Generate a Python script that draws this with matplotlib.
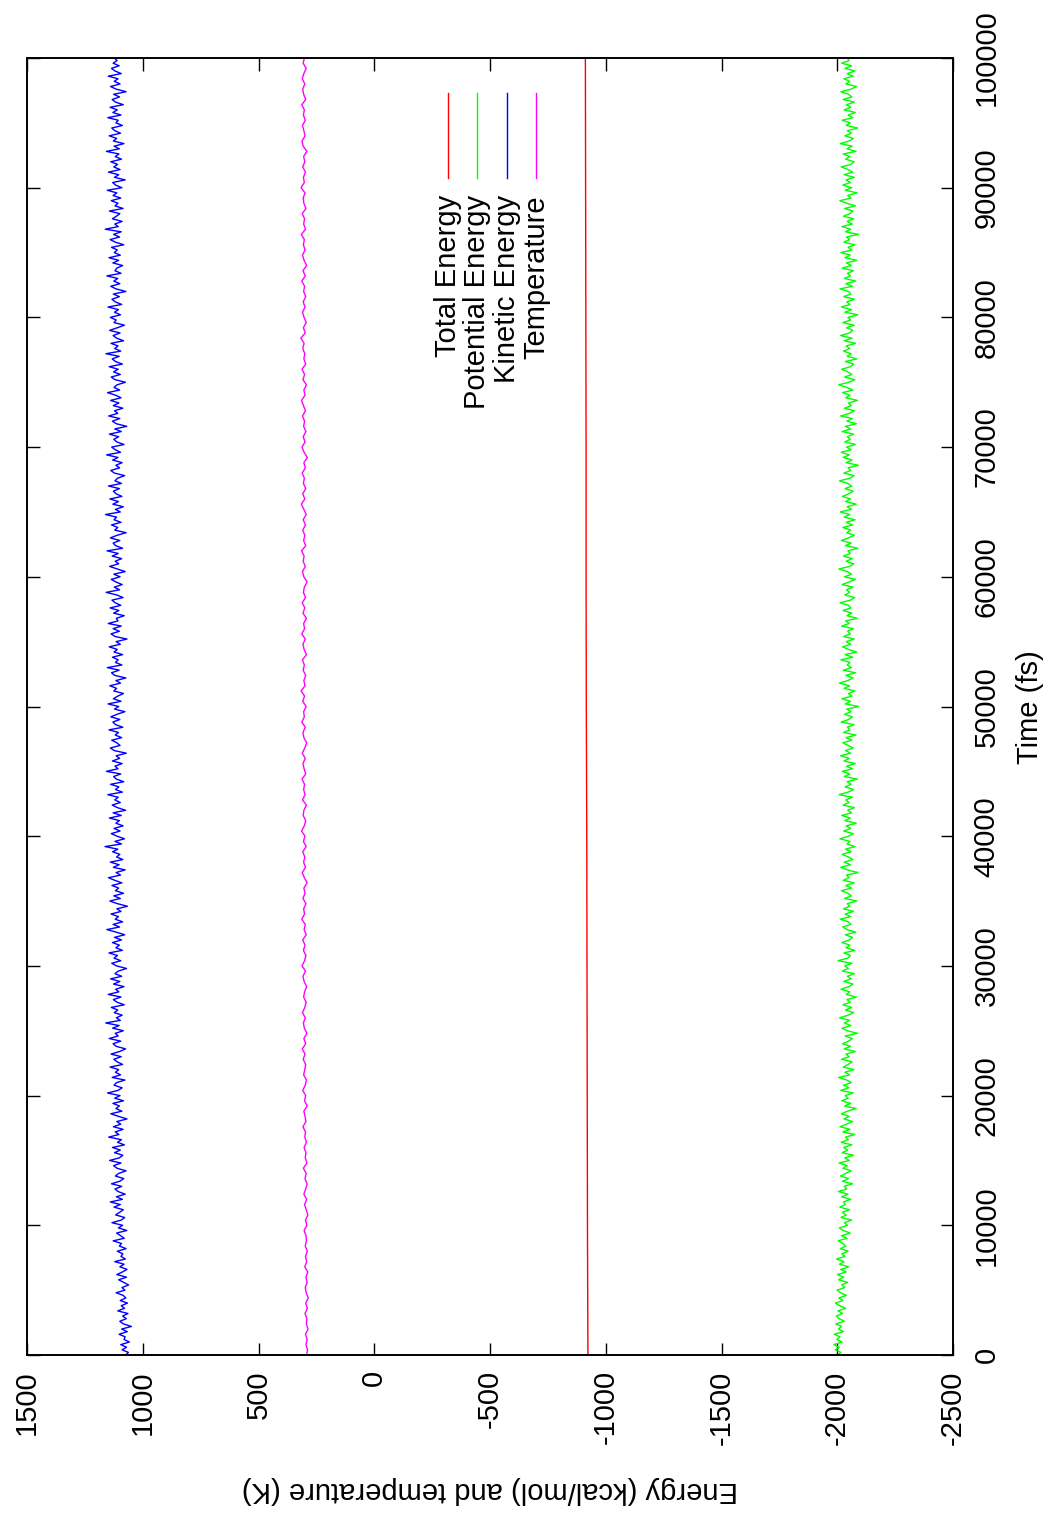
import numpy as np
import matplotlib
matplotlib.use("Agg")
import matplotlib.pyplot as plt
from matplotlib.lines import Line2D

plt.rcParams['font.family'] = ['Liberation Sans', 'DejaVu Sans']
plt.rcParams['axes.unicode_minus'] = False

# time grids (fs)
t_energy = np.linspace(0, 100000, 501)
t_temp = np.linspace(0, 100000, 251)
t_tot = np.linspace(0, 100000, 11)

# values (kcal/mol, K)
total_energy = [-923, -921, -920, -919, -918, -916, -915, -915, -914, -913, -912]

kinetic_energy = [
    1074, 1062, 1089, 1070, 1095, 1058, 1081, 1076, 1102, 1067, 1091, 1049, 1084, 1099, 1071, 1087, 1064, 1108, 1079, 1093,
    1066, 1097, 1073, 1085, 1115, 1077, 1090, 1061, 1083, 1104, 1070, 1112, 1088, 1068, 1099, 1081, 1121, 1075, 1094, 1086,
    1110, 1072, 1101, 1092, 1128, 1080, 1096, 1113, 1069, 1105, 1087, 1133, 1093, 1078, 1117, 1100, 1084, 1124, 1097, 1140,
    1088, 1114, 1076, 1106, 1120, 1091, 1135, 1099, 1082, 1118, 1104, 1072, 1111, 1126, 1094, 1143, 1101, 1086, 1122, 1097,
    1131, 1079, 1109, 1092, 1147, 1103, 1119, 1085, 1127, 1095, 1112, 1068, 1105, 1138, 1090, 1116, 1101, 1129, 1083, 1121,
    1098, 1152, 1107, 1089, 1124, 1113, 1077, 1132, 1096, 1118, 1104, 1141, 1087, 1110, 1125, 1093, 1137, 1100, 1074, 1115,
    1128, 1095, 1145, 1106, 1119, 1084, 1130, 1102, 1160, 1097, 1114, 1089, 1123, 1108, 1136, 1080, 1111, 1127, 1094, 1149,
    1103, 1117, 1081, 1126, 1099, 1139, 1091, 1120, 1106, 1070, 1113, 1134, 1095, 1124, 1109, 1146, 1088, 1116, 1101, 1131,
    1092, 1122, 1078, 1114, 1155, 1100, 1128, 1087, 1119, 1105, 1137, 1094, 1112, 1066, 1110, 1142, 1097, 1125, 1083, 1118,
    1104, 1133, 1090, 1121, 1148, 1096, 1115, 1076, 1127, 1102, 1140, 1086, 1113, 1099, 1130, 1108, 1163, 1092, 1120, 1079,
    1111, 1136, 1098, 1124, 1085, 1116, 1101, 1144, 1093, 1128, 1074, 1109, 1132, 1097, 1121, 1106, 1151, 1088, 1118, 1103,
    1139, 1082, 1114, 1126, 1095, 1157, 1107, 1120, 1089, 1131, 1100, 1115, 1071, 1123, 1140, 1098, 1112, 1134, 1091, 1119,
    1105, 1146, 1086, 1117, 1129, 1099, 1138, 1111, 1077, 1122, 1104, 1150, 1094, 1127, 1108, 1083, 1125, 1113, 1142, 1096,
    1116, 1073, 1121, 1135, 1102, 1153, 1090, 1118, 1106, 1131, 1087, 1124, 1110, 1145, 1097, 1115, 1068, 1120, 1137, 1101,
    1128, 1093, 1149, 1107, 1114, 1080, 1126, 1103, 1141, 1095, 1119, 1133, 1085, 1112, 1158, 1100, 1123, 1089, 1116, 1136,
    1098, 1125, 1076, 1110, 1143, 1104, 1119, 1091, 1132, 1106, 1154, 1087, 1117, 1128, 1099, 1140, 1111, 1072, 1121, 1108,
    1135, 1094, 1124, 1113, 1161, 1097, 1118, 1084, 1129, 1105, 1142, 1090, 1115, 1127, 1101, 1148, 1092, 1120, 1109, 1078,
    1123, 1138, 1100, 1116, 1089, 1130, 1107, 1156, 1096, 1119, 1134, 1081, 1112, 1125, 1104, 1144, 1093, 1121, 1069, 1114,
    1131, 1099, 1147, 1108, 1122, 1086, 1127, 1103, 1139, 1094, 1117, 1152, 1100, 1124, 1111, 1075, 1120, 1136, 1097, 1126,
    1106, 1145, 1088, 1118, 1132, 1102, 1159, 1095, 1121, 1107, 1137, 1083, 1113, 1128, 1098, 1143, 1110, 1079, 1124, 1115,
    1140, 1096, 1122, 1105, 1150, 1091, 1119, 1133, 1101, 1127, 1073, 1116, 1138, 1099, 1125, 1108, 1155, 1094, 1120, 1112,
    1087, 1129, 1104, 1146, 1097, 1123, 1110, 1135, 1082, 1118, 1141, 1100, 1126, 1093, 1162, 1106, 1121, 1089, 1131, 1114,
    1099, 1144, 1085, 1120, 1107, 1136, 1095, 1128, 1112, 1153, 1090, 1117, 1130, 1076, 1122, 1104, 1148, 1098, 1125, 1109,
    1138, 1092, 1119, 1103, 1157, 1101, 1124, 1081, 1127, 1113, 1145, 1096, 1121, 1134, 1088, 1116, 1106, 1151, 1094, 1129,
    1110, 1141, 1084, 1118, 1132, 1100, 1126, 1072, 1115, 1139, 1098, 1123, 1107, 1149, 1093, 1120, 1135, 1102, 1128, 1111,
    1122,
]

potential_energy = [
    -2002, -2016, -1991, -2009, -1985, -2021, -1998, -2012, -1987, -2027, -2005, -2018, -1994, -2031, -2008, -1996, -2023, -2003, -2036, -2011,
    -1992, -2025, -2007, -2040, -2014, -1999, -2033, -2019, -2045, -2006, -2028, -2001, -2038, -2015, -2050, -2010, -2029, -1997, -2034, -2020,
    -2047, -2013, -2037, -2024, -2004, -2042, -2018, -2056, -2026, -2009, -2044, -2031, -2062, -2016, -2039, -2022, -2053, -2011, -2035, -2027,
    -2058, -2019, -2046, -2005, -2041, -2030, -2066, -2023, -2049, -2014, -2037, -2060, -2025, -2043, -2008, -2052, -2033, -2070, -2021, -2045,
    -2028, -2063, -2017, -2048, -2036, -2075, -2024, -2055, -2012, -2040, -2067, -2029, -2051, -2018, -2044, -2081, -2032, -2058, -2020, -2047,
    -2035, -2069, -2015, -2050, -2027, -2061, -2041, -2006, -2054, -2033, -2072, -2026, -2046, -2064, -2019, -2052, -2038, -2078, -2030, -2057,
    -2023, -2049, -2065, -2034, -2088, -2043, -2021, -2059, -2031, -2053, -2010, -2047, -2071, -2036, -2062, -2025, -2056, -2042, -2083, -2039,
    -2054, -2016, -2050, -2068, -2028, -2060, -2044, -2074, -2022, -2048, -2033, -2064, -2003, -2045, -2057, -2029, -2076, -2038, -2055, -2020,
    -2052, -2066, -2035, -2080, -2041, -2024, -2059, -2047, -2013, -2058, -2034, -2070, -2027, -2054, -2043, -2085, -2032, -2061, -2046, -2018,
    -2063, -2037, -2073, -2026, -2051, -2040, -2090, -2044, -2015, -2057, -2030, -2067, -2048, -2021, -2060, -2036, -2077, -2042, -2055, -2011,
    -2049, -2069, -2028, -2058, -2039, -2082, -2033, -2056, -2019, -2062, -2045, -2074, -2025, -2051, -2037, -2065, -2008, -2047, -2071, -2034,
    -2060, -2043, -2087, -2031, -2054, -2022, -2066, -2040, -2078, -2029, -2052, -2014, -2058, -2036, -2069, -2046, -2024, -2063, -2038, -2081,
    -2027, -2055, -2044, -2072, -2017, -2050, -2065, -2032, -2059, -2041, -2093, -2035, -2057, -2020, -2064, -2048, -2076, -2030, -2053, -2009,
    -2046, -2068, -2037, -2079, -2026, -2061, -2043, -2055, -2016, -2067, -2034, -2084, -2049, -2023, -2058, -2039, -2073, -2028, -2056, -2045,
    -2070, -2019, -2052, -2036, -2086, -2042, -2063, -2025, -2059, -2048, -2012, -2057, -2075, -2033, -2054, -2040, -2068, -2021, -2050, -2080,
    -2031, -2062, -2044, -2007, -2053, -2071, -2038, -2065, -2027, -2056, -2046, -2089, -2035, -2060, -2018, -2049, -2074, -2041, -2058, -2024,
    -2066, -2039, -2077, -2030, -2054, -2013, -2061, -2043, -2082, -2036, -2057, -2022, -2050, -2069, -2034, -2063, -2045, -2010, -2055, -2072,
    -2029, -2059, -2047, -2091, -2038, -2064, -2026, -2052, -2017, -2060, -2040, -2078, -2033, -2056, -2044, -2070, -2021, -2058, -2036, -2083,
    -2042, -2065, -2015, -2053, -2074, -2031, -2061, -2048, -2087, -2037, -2055, -2023, -2068, -2041, -2006, -2050, -2076, -2032, -2063, -2045,
    -2019, -2057, -2071, -2035, -2085, -2043, -2060, -2027, -2054, -2039, -2079, -2030, -2064, -2014, -2052, -2067, -2040, -2073, -2024, -2058,
    -2046, -2089, -2033, -2062, -2018, -2055, -2041, -2075, -2028, -2059, -2049, -2012, -2066, -2037, -2080, -2031, -2057, -2044, -2070, -2022,
    -2061, -2039, -2084, -2034, -2056, -2016, -2063, -2047, -2076, -2029, -2053, -2040, -2092, -2036, -2058, -2020, -2065, -2043, -2071, -2027,
    -2054, -2068, -2032, -2079, -2041, -2011, -2060, -2045, -2086, -2035, -2062, -2024, -2057, -2038, -2074, -2030, -2066, -2048, -2017, -2059,
    -2073, -2036, -2055, -2026, -2081, -2042, -2064, -2013, -2052, -2070, -2033, -2061, -2044, -2088, -2039, -2056, -2021, -2067, -2047, -2078,
    -2030, -2058, -2040, -2074, -2025, -2063, -2049, -2016, -2060, -2083, -2037, -2054, -2028, -2069, -2043, -2077, -2034, -2062, -2019, -2051,
    -2045,
]

temperature = [
    292, 288, 295, 290, 297, 286, 293, 291, 299, 289, 296, 285, 294, 298, 290, 295, 287, 300, 292, 297,
    289, 298, 293, 295, 303, 291, 297, 287, 294, 301, 292, 304, 296, 290, 299, 294, 306, 291, 298, 295,
    303, 293, 300, 297, 308, 295, 299, 304, 290, 301, 296, 309, 298, 293, 305, 300, 296, 307, 299, 311,
    296, 304, 291, 302, 306, 298, 310, 300, 294, 305, 301, 292, 303, 308, 297, 312, 301, 295, 306, 299,
    309, 294, 303, 298, 313, 301, 305, 295, 308, 299, 304, 290, 302, 311, 297, 305, 300, 309, 294, 306,
    299, 314, 302, 296, 307, 304, 293, 310, 299, 305, 301, 312, 296, 303, 308, 298, 311, 300, 292, 304,
    308, 298, 313, 302, 305, 294, 309, 301, 316, 299, 304, 296, 307, 302, 310, 293, 303, 308, 298, 313,
    301, 305, 293, 308, 300, 311, 297, 306, 302, 290, 304, 310, 298, 307, 303, 314, 296, 305, 300, 309,
    297, 307, 294, 304, 315, 300, 309, 296, 306, 302, 311, 298, 304, 289, 303, 312, 299, 307, 295, 305,
    301, 310, 297, 306, 314, 299, 304, 293, 308, 301, 312, 296, 304, 300, 309, 303, 317, 298, 306, 294,
    303, 310, 299, 307, 296, 305, 301, 313, 298, 308, 292, 303, 310, 299, 306, 302, 315, 297, 305, 301,
    311, 295, 304, 307, 299, 316, 302, 306, 297, 309, 300, 305, 291, 307, 312, 299, 304, 310, 298, 306,
    302, 313, 296, 305, 309, 300, 311, 304, 294, 307, 302,
]

labels = ['Total Energy', 'Potential Energy', 'Kinetic Energy', 'Temperature']
colors = ['#ff0000', '#00ff00', '#0000ff', '#ff00ff']

W, H = 1045, 1519
fs = 21
fig = plt.figure(figsize=(W / 100, H / 100), dpi=100)
ax = fig.add_axes([27 / W, 1 - 1355 / H, (953 - 27) / W, (1355 - 58) / H])

# page is turned: energy runs along x (reversed), time runs up
lw = 1.0
ax.plot(total_energy, t_tot, color=colors[0], lw=lw)
ax.plot(potential_energy, t_energy, color=colors[1], lw=lw)
ax.plot(kinetic_energy, t_energy, color=colors[2], lw=lw)
ax.plot(temperature, t_temp, color=colors[3], lw=lw)

ax.set_xlim(1500, -2500)
ax.set_ylim(0, 100000)
ax.set_xticks(np.arange(1500, -2501, -500))
ax.set_yticks(np.arange(0, 100001, 10000))

ax.yaxis.tick_right()
ax.tick_params(direction='in', length=9, width=1, labelsize=fs,
               top=True, bottom=True, left=True, right=True,
               labelleft=False, labelright=True)
ax.tick_params(axis='x', labelrotation=90, pad=11)
ax.tick_params(axis='y', labelrotation=90, pad=14)
for lab in ax.get_yticklabels():
    lab.set_va('center')
for s in ax.spines.values():
    s.set_linewidth(1.4)

fig.text(490 / W, 1 - 1490 / H, 'Energy (kcal/mol) and temperature (K)',
         rotation=180, ha='center', va='center', fontsize=fs)
fig.text(1030 / W, 1 - 707 / H, 'Time (fs)', rotation=90,
         ha='center', va='center', fontsize=fs)

# key drawn by hand, like gnuplot's rotated one
for i, (lab, c) in enumerate(zip(labels, colors)):
    x = 448 + i * 29.3
    fig.add_artist(Line2D([x / W, x / W], [1 - 93 / H, 1 - 178 / H],
                          color=c, lw=lw, transform=fig.transFigure))
    fig.text(x / W, 1 - 195 / H, lab, rotation=90, ha='center', va='top',
             fontsize=fs)

fig.savefig('out.png', dpi=100)
